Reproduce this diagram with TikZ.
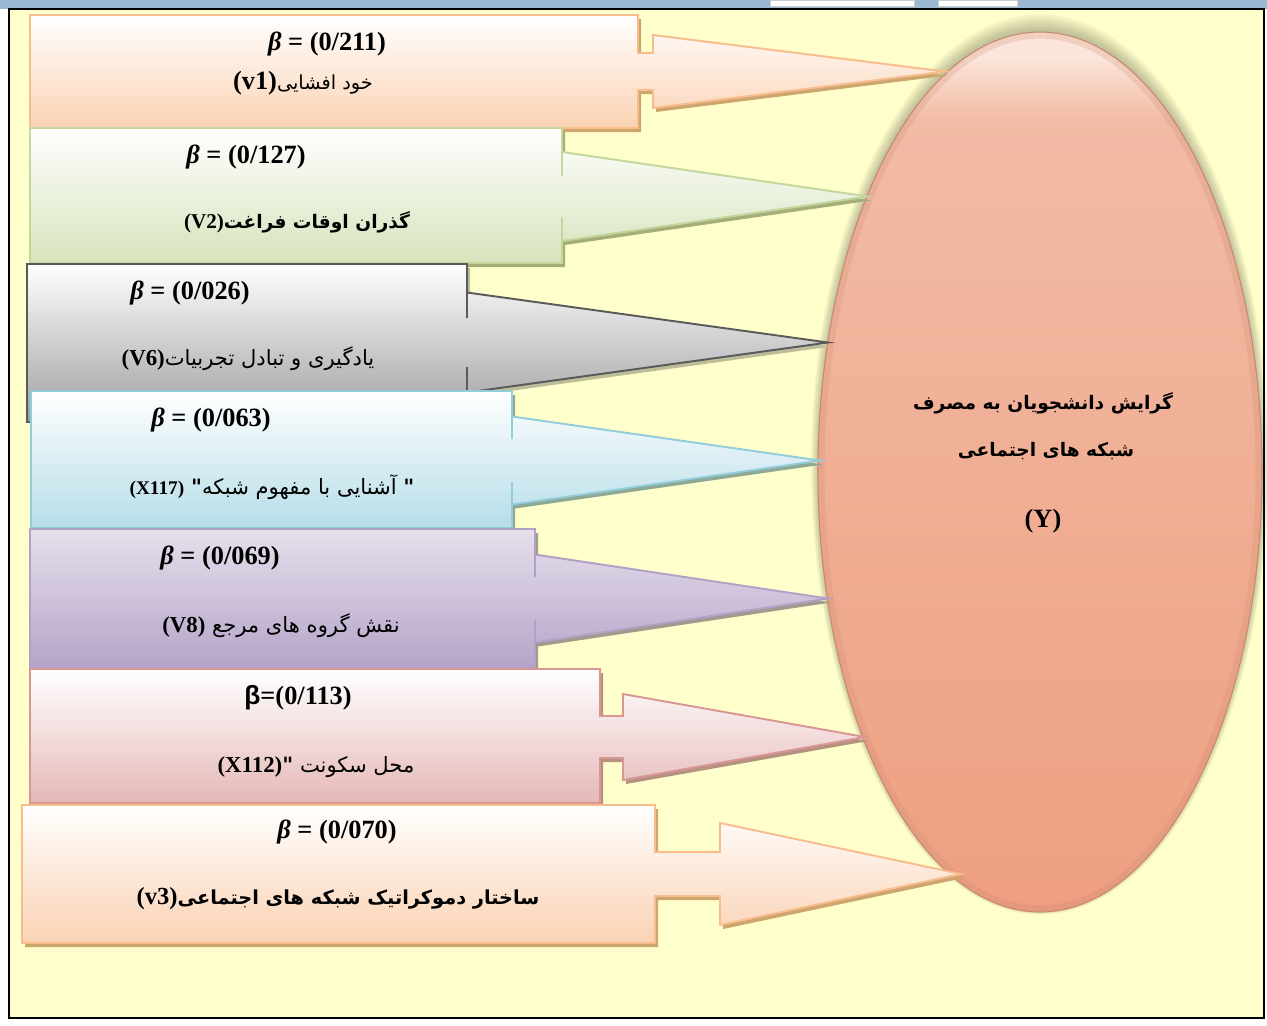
\documentclass[tikz,border=0pt]{standalone}
\usepackage{fontspec}
\setmainfont{Liberation Serif}
\newfontfamily\fa[Script=Arabic]{DejaVu Sans}
\newfontfamily\grk{Liberation Sans}
\TeXXeTstate=1
\definecolor{bgY}{HTML}{FFFFCC}
\definecolor{band}{HTML}{9BB8D3}
\definecolor{oB}{HTML}{FAD2B3}
\definecolor{oD}{HTML}{F9BC8C}
\definecolor{oS}{HTML}{CDA66E}
\definecolor{gB}{HTML}{D6E3BC}
\definecolor{gD}{HTML}{C3D69B}
\definecolor{gS}{HTML}{A5AE78}
\definecolor{kB}{HTML}{9E9E9E}
\definecolor{kD}{HTML}{5A5A5A}
\definecolor{kS}{HTML}{BDBD9A}
\definecolor{bB}{HTML}{B6DDE8}
\definecolor{bD}{HTML}{92CDDC}
\definecolor{bS}{HTML}{8EA996}
\definecolor{pT}{HTML}{E6E0EC}
\definecolor{pB}{HTML}{B5A4C9}
\definecolor{pD}{HTML}{B2A1C7}
\definecolor{pS}{HTML}{A39A8F}
\definecolor{rB}{HTML}{E5B8B7}
\definecolor{rD}{HTML}{D99694}
\definecolor{rS}{HTML}{B59280}
\definecolor{elT}{HTML}{FBE4D8}
\definecolor{elU}{HTML}{F2BBA5}
\definecolor{elM}{HTML}{F0AF95}
\definecolor{elB}{HTML}{EE9F80}
\definecolor{elD}{HTML}{C98870}
\pgfdeclareverticalshading{ellsh}{100bp}{color(0bp)=(elB); color(25bp)=(elB); color(50bp)=(elM); color(70bp)=(elU); color(73.5bp)=(elT); color(75bp)=(elT); color(100bp)=(elT)}
\newcommand\lat[1]{\beginL{\rmfamily\bfseries #1}\endL}
\newcommand\bet{\textit{β}}
% x0 y0 x1 y1 xh shaft-half head-half tipx midy
\def\callpath#1#2#3#4#5#6#7#8#9{(#1,#2) -- (#3,#2) -- (#3,#9-#6) -- (#5,#9-#6) -- (#5,#9-#7) -- (#8,#9) -- (#5,#9+#7) -- (#5,#9+#6) -- (#3,#9+#6) -- (#3,#4) -- (#1,#4) -- cycle}
\tikzset{
  bt/.style={font=\fontsize{15}{18}\selectfont\bfseries, inner sep=0pt},
  fat/.style={font=\fa\fontsize{12}{15}\selectfont, inner sep=0pt},
  fab/.style={font=\fa\bfseries\fontsize{11}{14}\selectfont, inner sep=0pt},
  cbox/.style={line width=1.1pt},
  shad/.style={shift={(3,4)}}
}
\begin{document}
\begin{tikzpicture}[x=0.02cm,y=-0.02cm]
\useasboundingbox (0,0) rectangle (1267,1025);
\fill[white] (0,0) rectangle (1267,1025);
\fill[bgY] (9,9) rectangle (1264,1018);
\fill[band] (0,0) rectangle (1267,9);
\fill[white,draw=gray!40] (770,0) rectangle (914,6);
\fill[white,draw=gray!40] (938,0) rectangle (1017,6);
\draw[line width=1.2pt] (9,9) rectangle (1264,1018);
% ellipse glow
\foreach \i in {1,...,8}{
  \fill[black!70!olive,opacity=0.045] (1040,470-0.7*\i) ellipse [x radius=221+\i, y radius=439+1.4*\i];
}
\coordinate (Y) at (1040,472);
\shade[shading=ellsh] (Y) ellipse [x radius=222, y radius=440];
\draw[elD, line width=0.6pt] (Y) ellipse [x radius=222, y radius=440];
\draw[elD, opacity=0.22, line width=4pt] (Y) ellipse [x radius=219, y radius=437];
% callout 1
\fill[oS,shad] \callpath{30}{15}{638}{128}{653}{18.5}{36.5}{945}{71.5};
\shadedraw[cbox, top color=white, bottom color=oB, draw=oD] \callpath{30}{15}{638}{128}{653}{18.5}{36.5}{945}{71.5};
% callout 2
\fill[gS,shad] \callpath{30}{128}{562}{263}{562}{21}{44.5}{868}{196.5};
\shadedraw[cbox, top color=white, bottom color=gB, draw=gD] \callpath{30}{128}{562}{263}{562}{21}{44.5}{868}{196.5};
% callout 3
\fill[kS,shad] \callpath{27}{264}{467}{422}{467}{24.5}{50}{828}{342.5};
\shadedraw[cbox, top color=white, bottom color=kB, draw=kD] \callpath{27}{264}{467}{422}{467}{24.5}{50}{828}{342.5};
% callout 4
\fill[bS,shad] \callpath{31}{391}{512}{528}{512}{21.5}{44}{820}{460.5};
\shadedraw[cbox, top color=white, bottom color=bB, draw=bD] \callpath{31}{391}{512}{528}{512}{21.5}{44}{820}{460.5};
% callout 5
\fill[pS,shad] \callpath{30}{529}{535}{667}{535}{21.5}{44}{828}{598.5};
\shadedraw[cbox, top color=pT, bottom color=pB, draw=pD] \callpath{30}{529}{535}{667}{535}{21.5}{44}{828}{598.5};
% callout 6
\fill[rS,shad] \callpath{30}{669}{600}{803}{623}{21}{43}{865}{737};
\shadedraw[cbox, top color=white, bottom color=rB, draw=rD] \callpath{30}{669}{600}{803}{623}{21}{43}{865}{737};
% callout 7
\fill[oS,shad] \callpath{22}{805}{655}{943}{720}{22}{51}{961}{874};
\shadedraw[cbox, top color=white, bottom color=oB, draw=oD] \callpath{22}{805}{655}{943}{720}{22}{51}{961}{874};
% texts
\node[bt] (b1) at (327,44) {\bet{} = (0/211)};
\node[fat, font=\fa\fontsize{11}{14}\selectfont] (t1) at (303,83) {\beginR خود افشایی\lat{\fontsize{15}{18}\selectfont(v1)}\endR};
\node[bt] (b2) at (246,157) {\bet{} = (0/127)};
\node[fab, font=\fa\bfseries\fontsize{10.6}{14}\selectfont] (t2) at (297,222) {\beginR گذران اوقات فراغت\lat{\fontsize{12}{15}\selectfont(V2)}\endR};
\node[bt] (b3) at (190,293) {\bet{} = (0/026)};
\node[fat] (t3) at (248,359) {\beginR یادگیری و تبادل تجربیات\lat{\fontsize{13}{15}\selectfont(V6)}\endR};
\node[bt] (b4) at (211,420) {\bet{} = (0/063)};
\node[fat] (t4) at (272,487) {\beginR \textbf{"} آشنایی با مفهوم شبکه\textbf{"} \lat{\fontsize{11}{14}\selectfont(X117)}\endR};
\node[bt] (b5) at (220,558) {\bet{} = (0/069)};
\node[fat] (t5) at (281,626) {\beginR نقش گروه های مرجع \lat{\fontsize{13}{15}\selectfont(V8)}\endR};
\node[bt] (b6) at (298,698) {{\grk β}=(0/113)};
\node[fat] (t6) at (316,767) {\beginR محل سکونت \textbf{"}\lat{\fontsize{13}{15}\selectfont(X112)}\endR};
\node[bt] (b7) at (337,832) {\bet{} = (0/070)};
\node[fab] (t7) at (338,899) {\beginR ساختار دموکراتیک شبکه های اجتماعی\lat{\fontsize{14}{16}\selectfont(v3)}\endR};
\node[fab, font=\fa\bfseries\fontsize{10.6}{14}\selectfont] (y1) at (1043,403) {\beginR گرایش دانشجویان به مصرف\endR};
\node[fab, font=\fa\bfseries\fontsize{10.6}{14}\selectfont] (y2) at (1046,451) {\beginR شبکه های اجتماعی\endR};
\node[bt] (y3) at (1043,521) {(Y)};
\end{tikzpicture}
\end{document}
